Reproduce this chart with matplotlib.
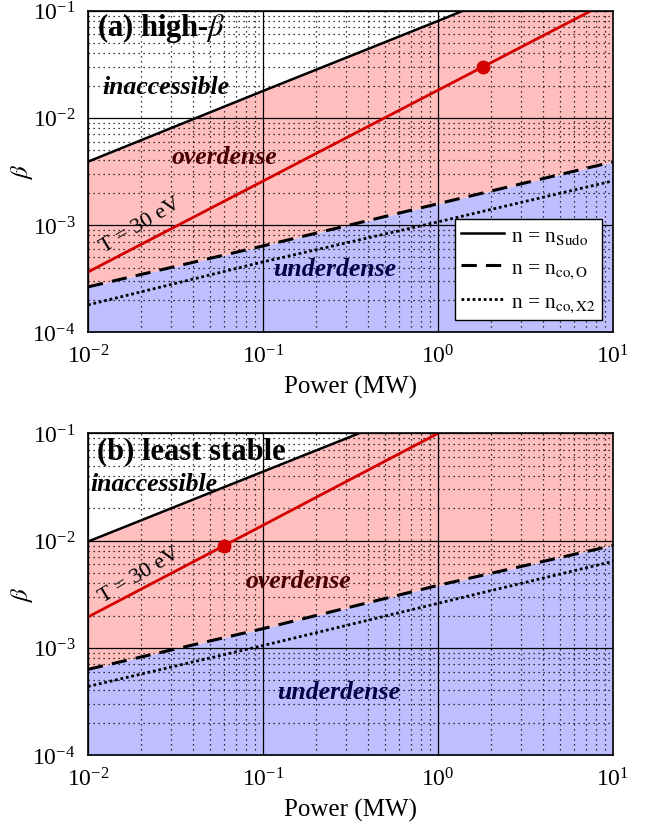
import matplotlib
matplotlib.use("Agg")
import matplotlib.pyplot as plt
import numpy as np

plt.rcParams['font.family'] = ['Liberation Serif', 'DejaVu Serif']
plt.rcParams['mathtext.fontset'] = 'stix'

# Power grid (MW)
power = [0.01, 0.1, 1.0, 10.0]

# Panel (a): high-beta
a_sudo = [3.9e-3, 1.78e-2, 8.0e-2, 0.37]
a_coO = [2.65e-4, 6.38e-4, 1.58e-3, 3.88e-3]
a_coX2 = [1.80e-4, 4.53e-4, 1.07e-3, 2.58e-3]
a_T30 = [3.65e-4, 2.57e-3, 1.81e-2, 0.127]
a_point = (1.81, 0.030)

# Panel (b): least stable
b_sudo = [9.8e-3, 4.4e-2, 0.197, 0.88]
b_coO = [6.3e-4, 1.51e-3, 3.82e-3, 9.0e-3]
b_coX2 = [4.36e-4, 1.05e-3, 2.6e-3, 6.4e-3]
b_T30 = [1.94e-3, 1.39e-2, 0.1, 0.718]
b_point = (0.060, 0.009)

titles = ["(a) high-$\\beta$", "(b) least stable"]

RED_FILL = "#FFBFBF"
BLUE_FILL = "#BFBFFF"
RED_LINE = "#D40000"

fig = plt.figure(figsize=(6.52, 8.29), dpi=100)
ax_a = fig.add_axes([0.135, 0.598, 0.805, 0.388])
ax_b = fig.add_axes([0.135, 0.088, 0.805, 0.388])

panels = [
    (ax_a, a_sudo, a_coO, a_coX2, a_T30, a_point, titles[0],
     dict(title=(0.017, 0.949), inacc=(0.027, 0.763), over=(0.16, 0.545),
          under=(0.352, 0.197), temp=(0.100, 0.335)), True),
    (ax_b, b_sudo, b_coO, b_coX2, b_T30, b_point, titles[1],
     dict(title=(0.017, 0.947), inacc=(0.004, 0.845), over=(0.30, 0.543),
          under=(0.36, 0.198), temp=(0.099, 0.560)), False),
]

for ax, sudo, coO, coX2, T30, pt, title, pos, legend in panels:
    ax.set_xscale('log')
    ax.set_yscale('log')
    ax.set_xlim(1e-2, 1e1)
    ax.set_ylim(1e-4, 1e-1)
    ax.set_facecolor('white')

    ax.fill_between(power, 1e-5, coO, color=BLUE_FILL, lw=0, zorder=1)
    ax.fill_between(power, coO, sudo, color=RED_FILL, lw=0, zorder=1)

    ax.set_axisbelow(False)
    ax.grid(True, which='major', color='black', lw=0.9, ls='-', zorder=2)
    ax.grid(True, which='minor', color='black', lw=0.9, ls=(0, (1, 3)), zorder=2)

    l1, = ax.plot(power, sudo, color='black', lw=1.8, ls='-', zorder=3)
    l2, = ax.plot(power, coO, color='black', lw=2.2, ls=(0, (5, 3)), zorder=3)
    l3, = ax.plot(power, coX2, color='black', lw=2.0, ls=(0, (1, 1)), zorder=3)
    ax.plot(power, T30, color=RED_LINE, lw=2.0, zorder=4)
    ax.plot([pt[0]], [pt[1]], 'o', color=RED_LINE, ms=9, zorder=5)

    ax.text(*pos['title'], title, transform=ax.transAxes, fontsize=22,
            fontweight='bold', va='center', ha='left', zorder=6)
    ax.text(*pos['inacc'], 'inaccessible', transform=ax.transAxes, fontsize=18.5,
            fontweight='bold', style='italic', va='center', ha='left', zorder=6)
    ax.text(*pos['over'], 'overdense', transform=ax.transAxes, fontsize=18.5,
            fontweight='bold', style='italic', color='#4a0000', va='center',
            ha='left', zorder=6)
    ax.text(*pos['under'], 'underdense', transform=ax.transAxes, fontsize=18.5,
            fontweight='bold', style='italic', color='#000045', va='center',
            ha='left', zorder=6)
    ax.text(*pos['temp'], 'T = 30 eV', transform=ax.transAxes, fontsize=16,
            rotation=31, va='center', ha='center', zorder=6)

    ax.set_xlabel('Power (MW)', fontsize=18, labelpad=5)
    ax.set_ylabel('$\\beta$', fontsize=18, labelpad=-2)
    ax.tick_params(which='both', direction='in', length=0, labelsize=17, pad=9)
    for s in ax.spines.values():
        s.set_linewidth(1.2)
        s.set_zorder(7)

    if legend:
        leg = ax.legend([l1, l2, l3],
                        ['n = n$_{\\mathrm{Sudo}}$', 'n = n$_{\\mathrm{co,O}}$',
                         'n = n$_{\\mathrm{co,X2}}$'],
                        loc='lower right', bbox_to_anchor=(0.979, 0.038),
                        fontsize=15.5, fancybox=False, framealpha=1,
                        edgecolor='black', handlelength=2.0, handletextpad=0.3,
                        borderpad=0.3, labelspacing=0.55, borderaxespad=0)
        leg.get_frame().set_linewidth(1.0)
        leg.set_zorder(8)

fig.savefig('out.png', dpi=100)
